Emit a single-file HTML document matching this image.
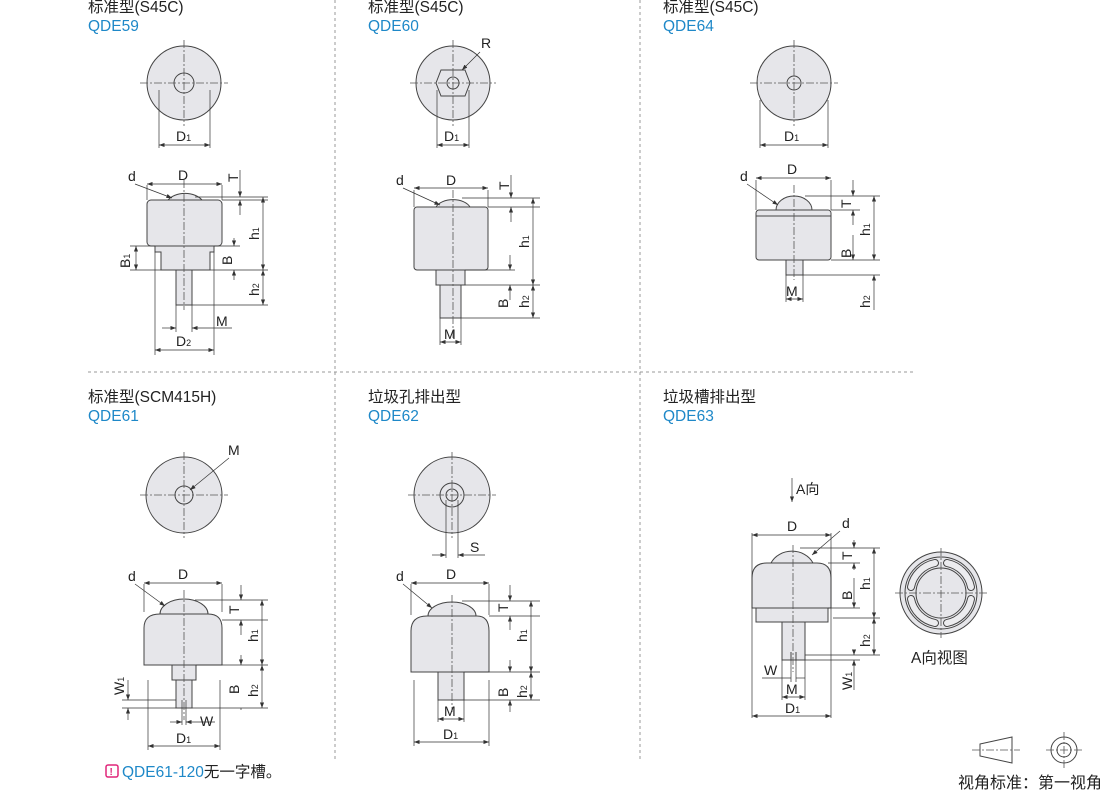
<!DOCTYPE html>
<html><head><meta charset="utf-8"><style>
html,body{margin:0;padding:0;background:#fff;}
svg{display:block;font-family:"Liberation Sans","Noto Sans CJK SC",sans-serif;}
.t{font-size:15.5px;fill:#222;}
.b{font-size:15.5px;fill:#1e88c8;}
.l{font-size:14px;fill:#222;}
.o{fill:#e6e6ea;stroke:#444;stroke-width:1;}
.n{fill:none;stroke:#444;stroke-width:1;}
.c{fill:none;stroke:#555;stroke-width:0.8;stroke-dasharray:8 2 2 2;}
.d{fill:none;stroke:#333;stroke-width:0.7;}
.sep{fill:none;stroke:#999;stroke-width:1;stroke-dasharray:3 3;}
</style></head><body>
<svg width="1110" height="795" viewBox="0 0 1110 795">
<defs>
<marker id="a" markerWidth="8" markerHeight="6" refX="8" refY="3" orient="auto-start-reverse"><path d="M0,0L8,3L0,6z" fill="#333"/></marker>
</defs>
<line class="sep" x1="335" y1="0" x2="335" y2="762"/>
<line class="sep" x1="640" y1="0" x2="640" y2="762"/>
<line class="sep" x1="88" y1="372" x2="915" y2="372"/>

<text class="t" x="88" y="12">标准型(S45C)</text><text class="b" x="88" y="31">QDE59</text>
<text class="t" x="368" y="12">标准型(S45C)</text><text class="b" x="368" y="31">QDE60</text>
<text class="t" x="663" y="12">标准型(S45C)</text><text class="b" x="663" y="31">QDE64</text>
<text class="t" x="88" y="402">标准型(SCM415H)</text><text class="b" x="88" y="421">QDE61</text>
<text class="t" x="368" y="402">垃圾孔排出型</text><text class="b" x="368" y="421">QDE62</text>
<text class="t" x="663" y="402">垃圾槽排出型</text><text class="b" x="663" y="421">QDE63</text>

<!-- ===== QDE59 ===== -->
<circle class="o" cx="184" cy="83" r="37"/>
<circle class="n" cx="184" cy="83" r="10"/>
<line class="c" x1="140" y1="83" x2="228" y2="83"/><line class="c" x1="184" y1="40" x2="184" y2="126"/>
<line class="d" x1="159" y1="90" x2="159" y2="148"/><line class="d" x1="210" y1="90" x2="210" y2="148"/>
<line class="d" x1="159" y1="145" x2="210" y2="145" marker-start="url(#a)" marker-end="url(#a)"/>
<text class="l" x="176" y="141">D<tspan font-size="9">1</tspan></text>
<path class="o" d="M168,200 A20,14 0 0 1 202,200 Z"/>
<rect class="o" x="147" y="200" width="75" height="46" rx="4"/>
<path class="o" d="M155,246 H214 V252 H210 V270 H161 V252 H155 Z"/>
<rect class="o" x="176" y="270" width="16" height="35"/>
<line class="c" x1="184" y1="180" x2="184" y2="310"/>
<line class="d" x1="147" y1="185" x2="147" y2="200"/><line class="d" x1="222" y1="185" x2="222" y2="200"/>
<line class="d" x1="147" y1="184" x2="222" y2="184" marker-start="url(#a)" marker-end="url(#a)"/>
<text class="l" x="178" y="180">D</text>
<text class="l" x="128" y="181">d</text><line class="d" x1="135" y1="184" x2="172" y2="198" marker-end="url(#a)"/>
<line class="d" x1="195" y1="197" x2="268" y2="197"/><line class="d" x1="222" y1="200" x2="268" y2="200"/>
<line class="d" x1="240" y1="170" x2="240" y2="197" marker-end="url(#a)"/><line class="d" x1="240" y1="215" x2="240" y2="200" marker-end="url(#a)"/>
<text class="l" x="238" y="182" transform="rotate(-90 238 182)">T</text>
<line class="d" x1="263" y1="197" x2="263" y2="270" marker-start="url(#a)" marker-end="url(#a)"/>
<text class="l" x="259" y="240" transform="rotate(-90 259 240)">h<tspan font-size="9">1</tspan></text>
<line class="d" x1="210" y1="270" x2="268" y2="270"/><line class="d" x1="192" y1="305" x2="268" y2="305"/>
<line class="d" x1="263" y1="270" x2="263" y2="305" marker-start="url(#a)" marker-end="url(#a)"/>
<text class="l" x="259" y="296" transform="rotate(-90 259 296)">h<tspan font-size="9">2</tspan></text>
<line class="d" x1="214" y1="246" x2="240" y2="246"/>
<line class="d" x1="234" y1="238" x2="234" y2="246" marker-end="url(#a)"/><line class="d" x1="234" y1="280" x2="234" y2="270" marker-end="url(#a)"/>
<text class="l" x="232" y="265" transform="rotate(-90 232 265)">B</text>
<line class="d" x1="130" y1="246" x2="155" y2="246"/><line class="d" x1="130" y1="270" x2="161" y2="270"/>
<line class="d" x1="136" y1="246" x2="136" y2="270" marker-start="url(#a)" marker-end="url(#a)"/>
<text class="l" x="130" y="268" transform="rotate(-90 130 268)">B<tspan font-size="9">1</tspan></text>
<line class="d" x1="176" y1="305" x2="176" y2="332"/><line class="d" x1="192" y1="305" x2="192" y2="332"/>
<line class="d" x1="162" y1="328" x2="176" y2="328" marker-end="url(#a)"/><line class="d" x1="232" y1="328" x2="192" y2="328" marker-end="url(#a)"/>
<text class="l" x="216" y="326">M</text>
<line class="d" x1="155" y1="252" x2="155" y2="355"/><line class="d" x1="214" y1="252" x2="214" y2="355"/>
<line class="d" x1="155" y1="350" x2="214" y2="350" marker-start="url(#a)" marker-end="url(#a)"/>
<text class="l" x="176" y="346">D<tspan font-size="9">2</tspan></text>

<!-- ===== QDE60 ===== -->
<circle class="o" cx="453" cy="83" r="37"/>
<path class="o" d="M441,70 H465 L470,83 L465,96 H441 L436,83 Z" fill="#dcdce0"/>
<circle class="n" cx="453" cy="83" r="6"/>
<line class="c" x1="410" y1="83" x2="496" y2="83"/><line class="c" x1="453" y1="40" x2="453" y2="126"/>
<text class="l" x="481" y="48">R</text><line class="d" x1="480" y1="52" x2="462" y2="70" marker-end="url(#a)"/>
<line class="d" x1="437" y1="90" x2="437" y2="148"/><line class="d" x1="469" y1="90" x2="469" y2="148"/>
<line class="d" x1="437" y1="145" x2="469" y2="145" marker-start="url(#a)" marker-end="url(#a)"/>
<text class="l" x="444" y="141">D<tspan font-size="9">1</tspan></text>
<path class="o" d="M436,207 A18,11 0 0 1 470,207 Z"/>
<rect class="o" x="414" y="207" width="74" height="63" rx="3"/>
<rect class="o" x="436" y="270" width="29" height="15"/>
<rect class="o" x="440" y="285" width="21" height="33"/>
<line class="c" x1="453" y1="190" x2="453" y2="340"/>
<line class="d" x1="414" y1="190" x2="414" y2="207"/><line class="d" x1="488" y1="190" x2="488" y2="207"/>
<line class="d" x1="414" y1="188" x2="488" y2="188" marker-start="url(#a)" marker-end="url(#a)"/>
<text class="l" x="446" y="185">D</text>
<text class="l" x="396" y="185">d</text><line class="d" x1="403" y1="188" x2="440" y2="205" marker-end="url(#a)"/>
<line class="d" x1="462" y1="198" x2="540" y2="198"/><line class="d" x1="488" y1="207" x2="540" y2="207"/>
<line class="d" x1="511" y1="175" x2="511" y2="198" marker-end="url(#a)"/><line class="d" x1="511" y1="222" x2="511" y2="207" marker-end="url(#a)"/>
<text class="l" x="509" y="190" transform="rotate(-90 509 190)">T</text>
<line class="d" x1="533" y1="198" x2="533" y2="285" marker-start="url(#a)" marker-end="url(#a)"/>
<text class="l" x="529" y="248" transform="rotate(-90 529 248)">h<tspan font-size="9">1</tspan></text>
<line class="d" x1="465" y1="270" x2="515" y2="270"/><line class="d" x1="465" y1="285" x2="540" y2="285"/><line class="d" x1="461" y1="318" x2="540" y2="318"/>
<line class="d" x1="510" y1="255" x2="510" y2="270" marker-end="url(#a)"/><line class="d" x1="510" y1="300" x2="510" y2="285" marker-end="url(#a)"/>
<text class="l" x="508" y="308" transform="rotate(-90 508 308)">B</text>
<line class="d" x1="533" y1="285" x2="533" y2="318" marker-start="url(#a)" marker-end="url(#a)"/>
<text class="l" x="529" y="308" transform="rotate(-90 529 308)">h<tspan font-size="9">2</tspan></text>
<line class="d" x1="440" y1="318" x2="440" y2="345"/><line class="d" x1="461" y1="318" x2="461" y2="345"/>
<line class="d" x1="440" y1="342" x2="461" y2="342" marker-start="url(#a)" marker-end="url(#a)"/>
<text class="l" x="444" y="339">M</text>

<!-- ===== QDE64 ===== -->
<circle class="o" cx="794" cy="83" r="37"/>
<circle class="n" cx="794" cy="83" r="7"/>
<line class="c" x1="750" y1="83" x2="838" y2="83"/><line class="c" x1="794" y1="40" x2="794" y2="126"/>
<line class="d" x1="760" y1="100" x2="760" y2="148"/><line class="d" x1="828" y1="100" x2="828" y2="148"/>
<line class="d" x1="760" y1="145" x2="828" y2="145" marker-start="url(#a)" marker-end="url(#a)"/>
<text class="l" x="784" y="141">D<tspan font-size="9">1</tspan></text>
<path class="o" d="M776,210 A18,14 0 0 1 812,210 Z"/>
<rect class="o" x="756" y="210" width="75" height="50" rx="3"/>
<line class="n" x1="756" y1="216" x2="831" y2="216"/>
<rect class="o" x="786" y="260" width="17" height="15"/>
<line class="c" x1="794" y1="185" x2="794" y2="280"/>
<line class="d" x1="756" y1="180" x2="756" y2="210"/><line class="d" x1="831" y1="180" x2="831" y2="210"/>
<line class="d" x1="756" y1="178" x2="831" y2="178" marker-start="url(#a)" marker-end="url(#a)"/>
<text class="l" x="787" y="174">D</text>
<text class="l" x="740" y="181">d</text><line class="d" x1="747" y1="184" x2="778" y2="205" marker-end="url(#a)"/>
<line class="d" x1="805" y1="196" x2="880" y2="196"/><line class="d" x1="831" y1="210" x2="860" y2="210"/>
<line class="d" x1="831" y1="260" x2="880" y2="260"/>
<line class="d" x1="853" y1="180" x2="853" y2="196" marker-end="url(#a)"/><line class="d" x1="853" y1="225" x2="853" y2="210" marker-end="url(#a)"/>
<text class="l" x="851" y="208" transform="rotate(-90 851 208)">T</text>
<line class="d" x1="874" y1="196" x2="874" y2="260" marker-start="url(#a)" marker-end="url(#a)"/>
<text class="l" x="870" y="236" transform="rotate(-90 870 236)">h<tspan font-size="9">1</tspan></text>
<line class="d" x1="853" y1="235" x2="853" y2="260" marker-end="url(#a)"/>
<line class="d" x1="803" y1="275" x2="880" y2="275"/>
<text class="l" x="851" y="258" transform="rotate(-90 851 258)">B</text>
<line class="d" x1="874" y1="275" x2="874" y2="310" marker-start="url(#a)"/>
<text class="l" x="870" y="308" transform="rotate(-90 870 308)">h<tspan font-size="9">2</tspan></text>
<line class="d" x1="786" y1="275" x2="786" y2="302"/><line class="d" x1="803" y1="275" x2="803" y2="302"/>
<line class="d" x1="786" y1="299" x2="803" y2="299" marker-start="url(#a)" marker-end="url(#a)"/>
<text class="l" x="786" y="296">M</text>

<!-- ===== QDE61 ===== -->
<circle class="o" cx="184" cy="495" r="38"/>
<circle class="n" cx="184" cy="495" r="9"/>
<line class="c" x1="140" y1="495" x2="228" y2="495"/><line class="c" x1="184" y1="452" x2="184" y2="538"/>
<text class="l" x="228" y="455">M</text><line class="d" x1="229" y1="458" x2="190" y2="490" marker-end="url(#a)"/>
<path class="o" d="M160,614 A24,15 0 0 1 208,614 Z"/>
<path class="o" d="M144,665 V628 Q144,614 160,614 H208 Q222,614 222,628 V665 Z"/>
<rect class="o" x="172" y="665" width="24" height="15"/>
<rect class="o" x="176" y="680" width="16" height="28"/>
<line class="c" x1="184" y1="590" x2="184" y2="720"/>
<line class="d" x1="144" y1="584" x2="144" y2="612"/><line class="d" x1="222" y1="584" x2="222" y2="612"/>
<line class="d" x1="144" y1="583" x2="222" y2="583" marker-start="url(#a)" marker-end="url(#a)"/>
<text class="l" x="178" y="579">D</text>
<text class="l" x="128" y="581">d</text><line class="d" x1="135" y1="584" x2="165" y2="606" marker-end="url(#a)"/>
<line class="d" x1="195" y1="600" x2="268" y2="600"/><line class="d" x1="222" y1="620" x2="268" y2="620"/>
<line class="d" x1="241" y1="585" x2="241" y2="600" marker-end="url(#a)"/><line class="d" x1="241" y1="635" x2="241" y2="620" marker-end="url(#a)"/>
<text class="l" x="239" y="614" transform="rotate(-90 239 614)">T</text>
<line class="d" x1="262" y1="600" x2="262" y2="665" marker-start="url(#a)" marker-end="url(#a)"/>
<text class="l" x="258" y="642" transform="rotate(-90 258 642)">h<tspan font-size="9">1</tspan></text>
<line class="d" x1="196" y1="665" x2="268" y2="665"/><line class="d" x1="192" y1="708" x2="268" y2="708"/>
<line class="d" x1="241" y1="655" x2="241" y2="665" marker-end="url(#a)"/><line class="d" x1="241" y1="710" x2="241" y2="708"/>
<text class="l" x="239" y="694" transform="rotate(-90 239 694)">B</text>
<line class="d" x1="262" y1="665" x2="262" y2="708" marker-start="url(#a)" marker-end="url(#a)"/>
<text class="l" x="258" y="697" transform="rotate(-90 258 697)">h<tspan font-size="9">2</tspan></text>
<line class="d" x1="122" y1="700" x2="176" y2="700"/><line class="d" x1="122" y1="708" x2="176" y2="708"/>
<line class="d" x1="128" y1="680" x2="128" y2="700" marker-end="url(#a)"/><line class="d" x1="128" y1="720" x2="128" y2="708" marker-end="url(#a)"/>
<text class="l" x="124" y="695" transform="rotate(-90 124 695)">W<tspan font-size="9">1</tspan></text>
<line class="d" x1="182" y1="700" x2="182" y2="725"/><line class="d" x1="186" y1="700" x2="186" y2="725"/>
<line class="d" x1="170" y1="722" x2="182" y2="722" marker-end="url(#a)"/><line class="d" x1="215" y1="722" x2="186" y2="722" marker-end="url(#a)"/>
<text class="l" x="200" y="726">W</text>
<line class="d" x1="148" y1="680" x2="148" y2="750"/><line class="d" x1="220" y1="680" x2="220" y2="750"/>
<line class="d" x1="148" y1="746" x2="220" y2="746" marker-start="url(#a)" marker-end="url(#a)"/>
<text class="l" x="176" y="743">D<tspan font-size="9">1</tspan></text>

<!-- ===== QDE62 ===== -->
<circle class="o" cx="452" cy="495" r="38"/>
<circle class="n" cx="452" cy="495" r="12"/><circle class="n" cx="452" cy="495" r="6"/>
<line class="c" x1="408" y1="495" x2="496" y2="495"/><line class="c" x1="452" y1="452" x2="452" y2="538"/>
<line class="d" x1="446" y1="500" x2="446" y2="558"/><line class="d" x1="458" y1="500" x2="458" y2="558"/>
<line class="d" x1="432" y1="555" x2="446" y2="555" marker-end="url(#a)"/><line class="d" x1="485" y1="555" x2="458" y2="555" marker-end="url(#a)"/>
<text class="l" x="470" y="552">S</text>
<path class="o" d="M428,616 A24,14 0 0 1 476,616 Z"/>
<path class="o" d="M411,672 V631 Q411,616 427,616 H477 Q489,616 489,631 V672 Z"/>
<rect class="o" x="438" y="672" width="26" height="28"/>
<line class="c" x1="452" y1="595" x2="452" y2="712"/>
<line class="d" x1="411" y1="584" x2="411" y2="615"/><line class="d" x1="489" y1="584" x2="489" y2="615"/>
<line class="d" x1="411" y1="583" x2="489" y2="583" marker-start="url(#a)" marker-end="url(#a)"/>
<text class="l" x="446" y="579">D</text>
<text class="l" x="396" y="581">d</text><line class="d" x1="403" y1="584" x2="432" y2="608" marker-end="url(#a)"/>
<line class="d" x1="462" y1="601" x2="540" y2="601"/><line class="d" x1="489" y1="616" x2="540" y2="616"/>
<line class="d" x1="510" y1="585" x2="510" y2="601" marker-end="url(#a)"/><line class="d" x1="510" y1="630" x2="510" y2="616" marker-end="url(#a)"/>
<text class="l" x="508" y="612" transform="rotate(-90 508 612)">T</text>
<line class="d" x1="531" y1="601" x2="531" y2="672" marker-start="url(#a)" marker-end="url(#a)"/>
<text class="l" x="527" y="642" transform="rotate(-90 527 642)">h<tspan font-size="9">1</tspan></text>
<line class="d" x1="464" y1="672" x2="540" y2="672"/><line class="d" x1="464" y1="700" x2="540" y2="700"/>
<line class="d" x1="510" y1="660" x2="510" y2="672" marker-end="url(#a)"/><line class="d" x1="510" y1="712" x2="510" y2="700" marker-end="url(#a)"/>
<text class="l" x="508" y="697" transform="rotate(-90 508 697)">B</text>
<line class="d" x1="531" y1="672" x2="531" y2="700" marker-start="url(#a)" marker-end="url(#a)"/>
<text class="l" x="527" y="698" transform="rotate(-90 527 698)">h<tspan font-size="9">2</tspan></text>
<line class="d" x1="438" y1="700" x2="438" y2="722"/><line class="d" x1="464" y1="700" x2="464" y2="722"/>
<line class="d" x1="438" y1="719" x2="464" y2="719" marker-start="url(#a)" marker-end="url(#a)"/>
<text class="l" x="444" y="716">M</text>
<line class="d" x1="414" y1="680" x2="414" y2="746"/><line class="d" x1="489" y1="680" x2="489" y2="746"/>
<line class="d" x1="414" y1="742" x2="489" y2="742" marker-start="url(#a)" marker-end="url(#a)"/>
<text class="l" x="443" y="739">D<tspan font-size="9">1</tspan></text>

<!-- ===== QDE63 ===== -->
<line class="d" x1="792" y1="478" x2="792" y2="502" marker-end="url(#a)"/>
<text class="l" x="796" y="494">A向</text>
<path class="o" d="M771,563 A23,20 0 0 1 813,563 Z"/>
<path class="o" d="M752,608 V578 Q752,563 767,563 H817 Q831,563 831,578 V608 Z"/>
<path class="o" d="M756,608 H828 V622 H756 Z"/>
<rect class="o" x="782" y="622" width="23" height="38"/>
<line class="n" x1="791" y1="660" x2="791" y2="652"/><line class="n" x1="796" y1="660" x2="796" y2="652"/>
<line class="c" x1="793" y1="545" x2="793" y2="672"/>
<line class="d" x1="752" y1="533" x2="752" y2="718"/><line class="d" x1="831" y1="533" x2="831" y2="718"/>
<line class="d" x1="752" y1="535" x2="831" y2="535" marker-start="url(#a)" marker-end="url(#a)"/>
<text class="l" x="787" y="531">D</text>
<text class="l" x="842" y="528">d</text><line class="d" x1="840" y1="531" x2="812" y2="555" marker-end="url(#a)"/>
<line class="d" x1="800" y1="548" x2="880" y2="548"/><line class="d" x1="828" y1="563" x2="860" y2="563"/>
<line class="d" x1="828" y1="608" x2="860" y2="608"/><line class="d" x1="833" y1="618" x2="880" y2="618"/>
<line class="d" x1="854" y1="540" x2="854" y2="548" marker-end="url(#a)"/><line class="d" x1="854" y1="570" x2="854" y2="563" marker-end="url(#a)"/>
<text class="l" x="852" y="560" transform="rotate(-90 852 560)">T</text>
<line class="d" x1="854" y1="578" x2="854" y2="608" marker-end="url(#a)"/>
<text class="l" x="852" y="600" transform="rotate(-90 852 600)">B</text>
<line class="d" x1="874" y1="548" x2="874" y2="618" marker-start="url(#a)" marker-end="url(#a)"/>
<text class="l" x="870" y="590" transform="rotate(-90 870 590)">h<tspan font-size="9">1</tspan></text>
<line class="d" x1="805" y1="655" x2="880" y2="655"/><line class="d" x1="805" y1="660" x2="860" y2="660"/>
<line class="d" x1="874" y1="618" x2="874" y2="655" marker-start="url(#a)" marker-end="url(#a)"/>
<text class="l" x="870" y="647" transform="rotate(-90 870 647)">h<tspan font-size="9">2</tspan></text>
<line class="d" x1="854" y1="650" x2="854" y2="655" marker-end="url(#a)"/><line class="d" x1="854" y1="690" x2="854" y2="660" marker-end="url(#a)"/>
<text class="l" x="852" y="690" transform="rotate(-90 852 690)">W<tspan font-size="9">1</tspan></text>
<line class="d" x1="791" y1="660" x2="791" y2="682"/><line class="d" x1="796" y1="660" x2="796" y2="682"/>
<line class="d" x1="762" y1="678" x2="791" y2="678"/><line class="d" x1="796" y1="678" x2="805" y2="678"/>
<text class="l" x="764" y="675">W</text>
<line class="d" x1="782" y1="660" x2="782" y2="700"/><line class="d" x1="805" y1="660" x2="805" y2="700"/>
<line class="d" x1="782" y1="697" x2="805" y2="697" marker-start="url(#a)" marker-end="url(#a)"/>
<text class="l" x="786" y="694">M</text>
<line class="d" x1="752" y1="716" x2="831" y2="716" marker-start="url(#a)" marker-end="url(#a)"/>
<text class="l" x="785" y="713">D<tspan font-size="9">1</tspan></text>
<!-- A view -->
<circle class="o" cx="941" cy="593" r="41" fill="#ececef"/>
<circle class="n" cx="941" cy="593" r="36"/>
<g fill="none" stroke-linecap="round">
<g stroke="#444" stroke-width="8">
<path d="M911,587 A30.5,30.5 0 0 1 935,563"/><path d="M947,563 A30.5,30.5 0 0 1 971,587"/>
<path d="M971,599 A30.5,30.5 0 0 1 947,623"/><path d="M935,623 A30.5,30.5 0 0 1 911,599"/>
</g>
<g stroke="#ececef" stroke-width="6">
<path d="M911,587 A30.5,30.5 0 0 1 935,563"/><path d="M947,563 A30.5,30.5 0 0 1 971,587"/>
<path d="M971,599 A30.5,30.5 0 0 1 947,623"/><path d="M935,623 A30.5,30.5 0 0 1 911,599"/>
</g>
</g>
<circle class="n" cx="941" cy="593" r="25"/>
<line class="c" x1="895" y1="593" x2="987" y2="593"/><line class="c" x1="941" y1="548" x2="941" y2="638"/>
<text class="t" x="911" y="663">A向视图</text>

<!-- note -->
<rect x="106" y="765" width="12" height="12" rx="2" fill="none" stroke="#e0267a" stroke-width="1.5"/>
<text x="109.5" y="775" font-size="10" font-weight="bold" fill="#e0267a">!</text>
<text class="t" x="122" y="777"><tspan fill="#1e88c8">QDE61-120</tspan>无一字槽。</text>

<!-- projection symbol -->
<path class="n" d="M980,744 L1012,737 V763 L980,756 Z"/>
<line class="c" x1="972" y1="750" x2="1020" y2="750"/>
<circle class="n" cx="1064" cy="750" r="13"/><circle class="n" cx="1064" cy="750" r="7"/>
<line class="c" x1="1046" y1="750" x2="1082" y2="750"/><line class="c" x1="1064" y1="732" x2="1064" y2="768"/>
<text x="958" y="788" font-size="16px" fill="#222">视角标准：第一视角</text>
</svg>
</body></html>
